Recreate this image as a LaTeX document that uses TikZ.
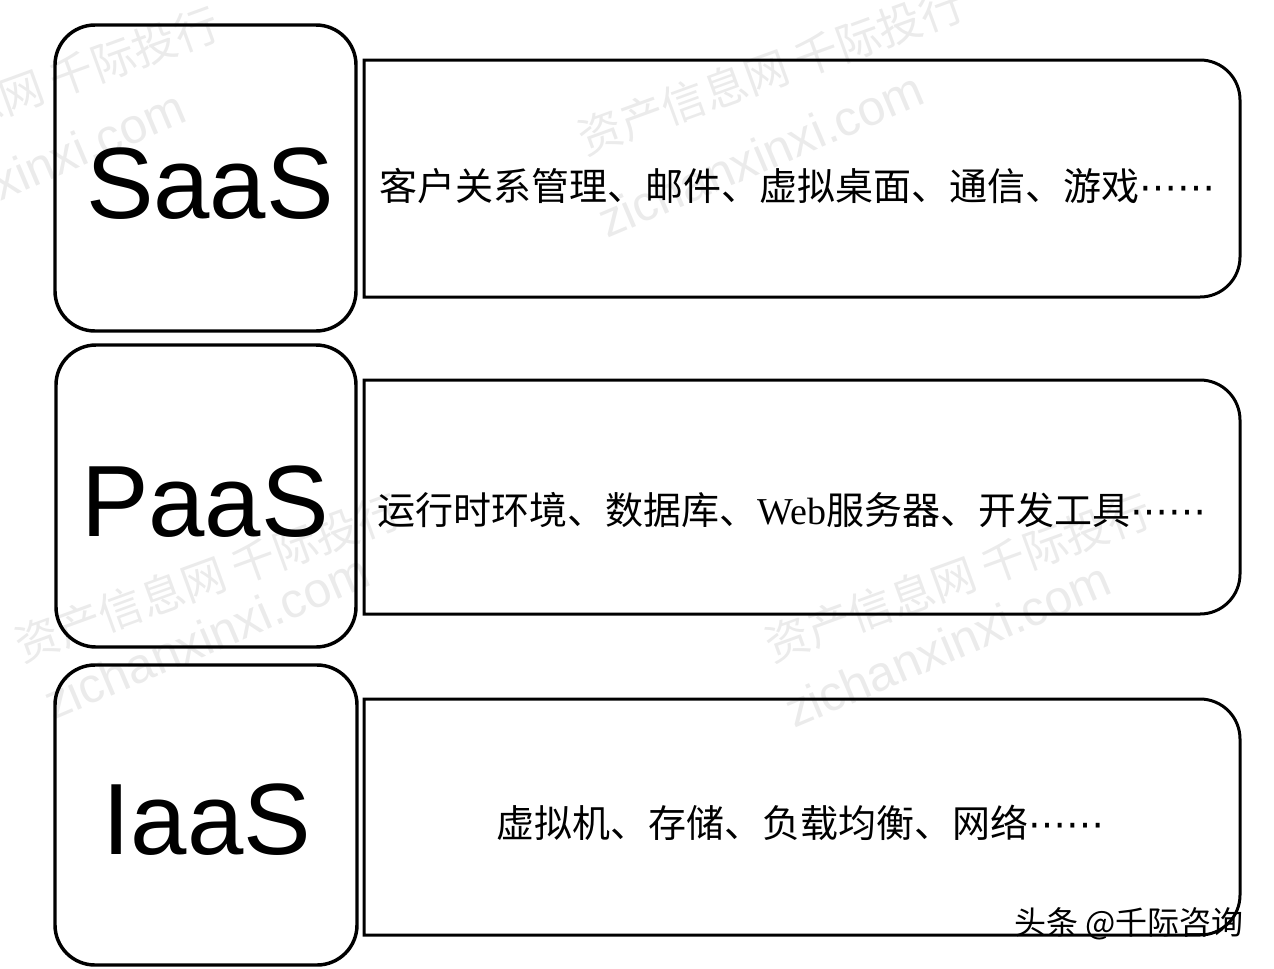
\documentclass[tikz,border=0pt]{standalone}
\usepackage{fontspec}
\setmainfont{Liberation Serif}
\setsansfont{Liberation Sans}
\newfontfamily\cjk{Noto Sans CJK SC}
\newfontfamily\dotsfont{DejaVu Sans}
\newcommand{\dotsmid}{{\dotsfont ⋯⋯}}

\tikzset{every picture/.style={line width=0.75pt}}
\tikzset{
  tier/.style={font=\sffamily\fontsize{76}{80}\selectfont, inner sep=0.75pt},
  items/.style={font=\cjk\fontsize{28.5}{32}\selectfont, inner sep=0.75pt},
  wmcn/.style={font=\cjk\fontsize{33}{36}\selectfont, text=black!8, rotate=20, anchor=south west, inner sep=0pt},
  wmurl/.style={font=\sffamily\fontsize{37}{40}\selectfont, text=black!8, rotate=23, anchor=south west, inner sep=0pt}
}

\begin{document}
\begin{tikzpicture}[x=0.75pt,y=0.75pt,yscale=-1,xscale=1]
\useasboundingbox (0,0) rectangle (1274,968);

% Watermark
\draw (-158,180) node (wmname1) [wmcn] {资产信息网 千际投行};
\draw (-131,258) node (wmurl1) [wmurl] {zichanxinxi.com};
\draw (587,160) node (wmname2) [wmcn] {资产信息网 千际投行};
\draw (607,240) node (wmurl2) [wmurl] {zichanxinxi.com};
\draw (24,667) node (wmname3) [wmcn] {资产信息网 千际投行};
\draw (53,722) node (wmurl3) [wmurl] {zichanxinxi.com};
\draw (774,667) node (wmname4) [wmcn] {资产信息网 千际投行};
\draw (794,730) node (wmurl4) [wmurl] {zichanxinxi.com};

%Rounded Rect: SaaS
\draw [line width=2.6]  (55,65) .. controls (55,42.91) and (72.91,25) .. (95,25) -- (316,25) .. controls (338.09,25) and (356,42.91) .. (356,65) -- (356,291) .. controls (356,313.09) and (338.09,331) .. (316,331) -- (95,331) .. controls (72.91,331) and (55,313.09) .. (55,291) -- cycle ;
%Rounded Rect: PaaS
\draw [line width=2.6]  (56,385) .. controls (56,362.91) and (73.91,345) .. (96,345) -- (316,345) .. controls (338.09,345) and (356,362.91) .. (356,385) -- (356,607) .. controls (356,629.09) and (338.09,647) .. (316,647) -- (96,647) .. controls (73.91,647) and (56,629.09) .. (56,607) -- cycle ;
%Rounded Rect: IaaS
\draw [line width=2.6]  (55,705) .. controls (55,682.91) and (72.91,665) .. (95,665) -- (317,665) .. controls (339.09,665) and (357,682.91) .. (357,705) -- (357,925) .. controls (357,947.09) and (339.09,965) .. (317,965) -- (95,965) .. controls (72.91,965) and (55,947.09) .. (55,925) -- cycle ;

%Shape: Round Same Side Corner Rect
\draw [line width=2.25]  (364,60) -- (1200,60) .. controls (1222.09,60) and (1240,77.91) .. (1240,100) -- (1240,257) .. controls (1240,279.09) and (1222.09,297) .. (1200,297) -- (364,297) -- cycle ;
%Shape: Round Same Side Corner Rect
\draw [line width=2.25]  (364,380) -- (1200,380) .. controls (1222.09,380) and (1240,397.91) .. (1240,420) -- (1240,574) .. controls (1240,596.09) and (1222.09,614) .. (1200,614) -- (364,614) -- cycle ;
%Shape: Round Same Side Corner Rect
\draw [line width=2.25]  (364,699) -- (1200,699) .. controls (1222.09,699) and (1240,716.91) .. (1240,739) -- (1240,895) .. controls (1240,917.09) and (1222.09,935) .. (1200,935) -- (364,935) -- cycle ;

% Text Node
\draw (210,184) node (saas) [tier] {SaaS};
% Text Node
\draw (205,502) node (paas) [tier] {PaaS};
% Text Node
\draw (207,820) node (iaas) [tier] {IaaS};
% Text Node
\draw (797,186) node (saasitems) [items] {客户关系管理、邮件、虚拟桌面、通信、游戏\dotsmid};
% Text Node
\draw (792,510) node (paasitems) [items] {运行时环境、数据库、{\rmfamily Web}服务器、开发工具\dotsmid};
% Text Node
\draw (800,823) node (iaasitems) [items] {虚拟机、存储、负载均衡、网络\dotsmid};
% Text Node
\draw (1129,924) node (credit) [font=\cjk\fontsize{24}{28}\selectfont, inner sep=0.75pt] {头条 @千际咨询};

\end{tikzpicture}
\end{document}
